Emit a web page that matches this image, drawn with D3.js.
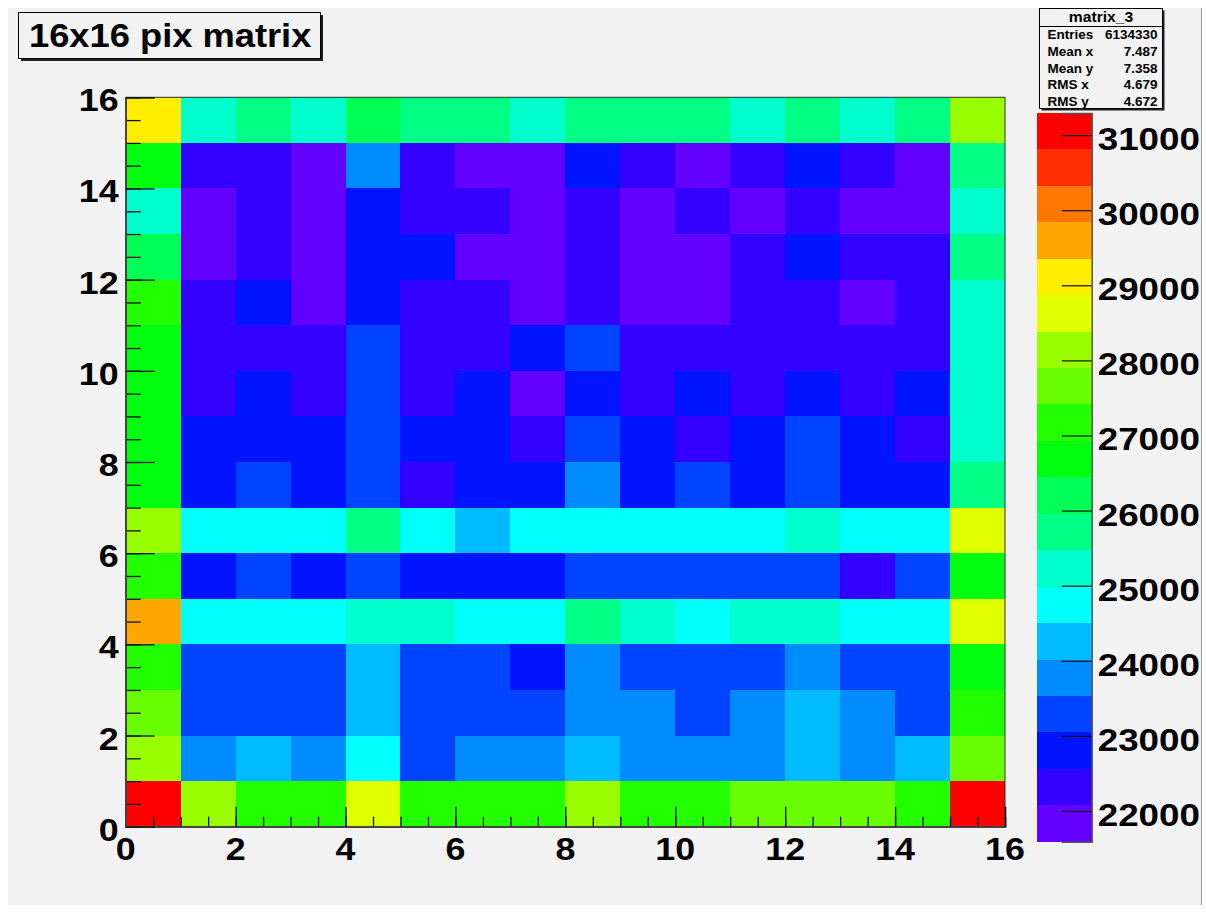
<!DOCTYPE html>
<html>
<head>
<meta charset="utf-8">
<script src="https://cdn.jsdelivr.net/npm/d3@7"></script>
<style>
  html, body { margin: 0; padding: 0; background: #ffffff; }
  svg text { font-family: "Liberation Sans", Arial, Helvetica, sans-serif; font-weight: bold; fill: #000; }
</style>
</head>
<body>
<svg id="chart" width="1206" height="912"></svg>
<script>
// ---- histogram content ----
const histName = "matrix_3";
const histTitle = "16x16 pix matrix";
const nBinsX = 16;
const nBinsY = 16;

// bin contents, one row per y bin, listed from the top row (y bin 15) down to y bin 0
const rowsTopDown = [
  [29110, 25230, 25710, 25180, 26200, 25670, 25760, 25270, 25710, 25800, 25670, 25230, 25760, 25320, 25710, 28140],
  [26690, 22320, 22280, 21830, 23770, 22370, 21880, 21790, 22800, 22410, 21950, 22320, 22760, 22280, 21830, 25710],
  [25230, 21591, 22370, 21700, 22850, 22320, 22240, 21880, 22410, 21830, 22280, 21790, 22370, 21950, 21880, 25270],
  [26150, 21830, 22280, 21880, 22800, 22900, 21790, 21950, 22320, 21700, 21830, 22410, 22760, 22370, 22240, 25760],
  [27170, 22410, 22760, 21830, 22850, 22320, 22280, 21790, 22370, 21880, 21830, 22240, 22320, 21790, 22410, 25180],
  [26730, 22280, 22370, 22320, 23290, 22410, 22240, 22800, 23240, 22320, 22370, 22280, 22410, 22320, 22240, 25230],
  [26640, 22320, 22850, 22410, 23330, 22280, 22760, 21880, 22800, 22370, 22900, 22280, 22850, 22320, 22760, 25320],
  [26690, 22760, 22800, 22850, 23290, 22900, 22800, 22320, 23380, 22760, 22370, 22850, 23240, 22800, 22280, 25270],
  [26780, 22800, 23240, 22760, 23330, 22410, 22850, 22800, 23770, 22900, 23290, 22760, 23330, 22800, 22850, 25760],
  [28190, 24740, 24790, 24700, 25710, 24830, 24260, 24740, 24790, 24700, 24740, 24830, 25230, 24790, 24740, 28630],
  [27210, 22850, 23290, 22760, 23330, 22800, 22900, 22850, 23240, 23290, 23380, 23330, 23290, 22370, 23240, 26690],
  [29600, 24790, 24740, 24830, 25180, 25230, 24700, 24790, 25800, 25270, 24740, 25230, 25180, 24790, 24830, 28680],
  [27260, 23290, 23240, 23330, 24260, 23380, 23290, 22850, 23820, 23240, 23290, 23330, 23770, 23290, 23240, 26730],
  [27660, 23330, 23290, 23240, 24210, 23290, 23380, 23330, 23770, 23860, 23290, 23720, 24300, 23770, 23240, 27170],
  [28140, 23770, 24260, 23820, 24790, 23290, 23770, 23720, 24350, 23820, 23770, 23860, 24260, 23770, 24210, 27610],
  [31294, 28100, 27170, 27120, 28630, 27210, 27170, 27080, 28140, 27260, 27170, 27700, 27660, 27610, 27120, 31050]
];

// axis labelling
const xTicks = [0, 2, 4, 6, 8, 10, 12, 14, 16];
const yTicks = [0, 2, 4, 6, 8, 10, 12, 14, 16];
const zTicks = [22000, 23000, 24000, 25000, 26000, 27000, 28000, 29000, 30000, 31000];

// statistics box
const statLabels = ["Entries", "Mean x", "Mean y", "RMS x", "RMS y"];
const statValues = ["6134330", "7.487", "7.358", "4.679", "4.672"];

// ---- layout ----
const svg = d3.select("#chart");
const frame = { left: 125.7, right: 1005, top: 97.3, bottom: 826.7 };
const palBox = { left: 1037.3, right: 1091.7, top: 113, bottom: 841.7 };
const nContours = 20;

const x = d3.scaleLinear().domain([0, nBinsX]).range([frame.left, frame.right]);
const y = d3.scaleLinear().domain([0, nBinsY]).range([frame.bottom, frame.top]);

const cells = [];
rowsTopDown.forEach((row, r) => row.forEach((v, c) => cells.push({ ix: c, iy: nBinsY - 1 - r, v })));

const [zmin, zmax] = d3.extent(cells, d => d.v);
const levels = d3.range(nContours + 1).map(i => zmin + i * (zmax - zmin) / nContours);

// 50-step violet -> red "pretty" palette, sampled once per contour band
const prettyHue = i => 280 - (i + 1) * (280 / 50);
const bandColors = d3.range(nContours).map(k => {
  const i = Math.floor((k + 0.99) * 50 / nContours);
  return d3.hsl(prettyHue(i), 1, 0.5).formatHex();
});
const color = d3.scaleThreshold().domain(levels.slice(1, -1)).range(bandColors);
const z = d3.scaleLinear().domain([zmin, zmax]).range([palBox.bottom, palBox.top]);

// canvas background
svg.append("rect").attr("x", 8).attr("y", 8).attr("width", 1193).attr("height", 897).attr("fill", "#f2f2f2");
svg.append("line").attr("x1", 1201.5).attr("x2", 1201.5).attr("y1", 8).attr("y2", 905).attr("stroke", "#9a9a9a");

// text helper: ROOT-like wide bold glyphs
function label(g, str, tx, ty, size, anchor, sx) {
  return g.append("text")
    .attr("transform", `translate(${tx},${ty}) scale(${sx},1)`)
    .attr("text-anchor", anchor)
    .style("font-size", size + "px")
    .text(str);
}

// ---- cells ----
svg.append("g").selectAll("rect").data(cells).join("rect")
  .attr("x", d => x(d.ix))
  .attr("y", d => y(d.iy + 1))
  .attr("width", d => x(d.ix + 1) - x(d.ix))
  .attr("height", d => y(d.iy) - y(d.iy + 1))
  .attr("fill", d => color(d.v))
  .attr("shape-rendering", "crispEdges");

// frame
svg.append("rect")
  .attr("x", frame.left).attr("y", frame.top)
  .attr("width", frame.right - frame.left).attr("height", frame.bottom - frame.top)
  .attr("fill", "none").attr("stroke", "#333").attr("stroke-width", 1);

// ---- axes (ticks drawn inward) ----
const halfSteps = d3.range(0, nBinsX + 0.01, 0.5);

const xMinor = svg.append("g").attr("transform", `translate(0,${frame.bottom})`)
  .call(d3.axisBottom(x).tickValues(halfSteps).tickSize(-10).tickFormat(""));
const xMajor = svg.append("g").attr("transform", `translate(0,${frame.bottom})`)
  .call(d3.axisBottom(x).tickValues(xTicks).tickSize(-20).tickFormat(""));
const yMinor = svg.append("g").attr("transform", `translate(${frame.left},0)`)
  .call(d3.axisLeft(y).tickValues(halfSteps).tickSize(-15).tickFormat(""));
const yMajor = svg.append("g").attr("transform", `translate(${frame.left},0)`)
  .call(d3.axisLeft(y).tickValues(yTicks).tickSize(-29).tickFormat(""));

[xMinor, xMajor, yMinor, yMajor].forEach(g => {
  g.select(".domain").attr("stroke", "#444").attr("stroke-width", 1.5);
  g.selectAll(".tick line").attr("stroke", "#111").attr("stroke-width", 1.3);
});

const labels = svg.append("g");
xTicks.forEach(t => label(labels, String(t), x(t), frame.bottom + 33, 32, "middle", 1.12));
yTicks.forEach(t => label(labels, String(t), frame.left - 7, y(t) + 14, 32, "end", 1.12));

// ---- palette ----
const pal = svg.append("g");
pal.selectAll("rect").data(d3.range(nContours)).join("rect")
  .attr("x", palBox.left)
  .attr("y", k => z(levels[k + 1]))
  .attr("width", palBox.right - palBox.left)
  .attr("height", k => z(levels[k]) - z(levels[k + 1]))
  .attr("fill", k => bandColors[k])
  .attr("shape-rendering", "crispEdges");

const zAxis = pal.append("g").attr("transform", `translate(${palBox.right},0)`)
  .call(d3.axisLeft(z).tickValues(zTicks).tickSize(30).tickFormat(""));
zAxis.select(".domain").attr("stroke", "#555").attr("stroke-width", 1.5);
zAxis.selectAll(".tick line").attr("stroke", "#111").attr("stroke-width", 1.2);
zTicks.forEach(t => label(pal, String(t), palBox.right + 6, z(t) + 15, 32, "start", 1.15));

// ---- title box ----
const tb = svg.append("g");
tb.append("rect").attr("x", 21).attr("y", 15).attr("width", 302).attr("height", 46).attr("fill", "#222");
tb.append("rect").attr("x", 18.5).attr("y", 12.5).attr("width", 302).attr("height", 46)
  .attr("fill", "#f2f2f2").attr("stroke", "#000").attr("stroke-width", 1);
label(tb, histTitle, 29, 47, 33, "start", 1.1);

// ---- statistics box ----
const sb = svg.append("g");
const sbx = 1039.5, sby = 8.5, sbw = 123, sbh = 100;
sb.append("rect").attr("x", sbx + 2).attr("y", sby + 2).attr("width", sbw).attr("height", sbh).attr("fill", "#222");
sb.append("rect").attr("x", sbx).attr("y", sby).attr("width", sbw).attr("height", sbh)
  .attr("fill", "#f2f2f2").attr("stroke", "#000").attr("stroke-width", 1);
sb.append("line").attr("x1", sbx).attr("x2", sbx + sbw).attr("y1", 26.5).attr("y2", 26.5).attr("stroke", "#000");
label(sb, histName, sbx + sbw / 2, 22, 14.5, "middle", 1.08);
statLabels.forEach((s, i) => {
  const by = 39 + i * 16.8;
  label(sb, s, sbx + 8, by, 12.5, "start", 1.08);
  label(sb, statValues[i], sbx + sbw - 5, by, 12.5, "end", 1.08);
});
</script>
</body>
</html>
